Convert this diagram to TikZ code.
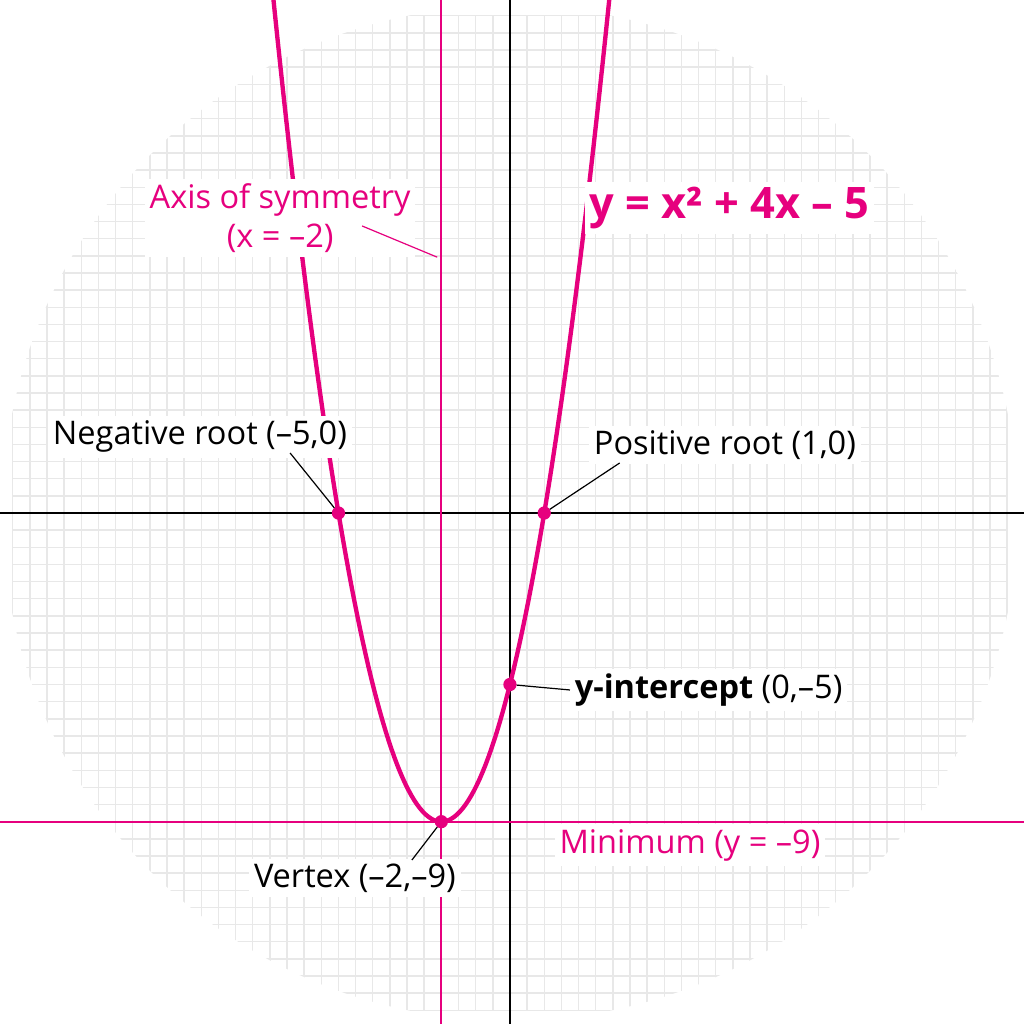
\documentclass[tikz,border=0pt]{standalone}
\usepackage{fontspec}
\setmainfont{Open Sans}
\usetikzlibrary{calc,positioning,fadings}
\definecolor{mag}{HTML}{E6007E}
\begin{document}
\begin{tikzpicture}[x=0.5cm, y=0.5cm, outer sep=0pt]

\tikzstyle{lbl}=[fill=white, inner sep=2pt, font=\fontsize{13.5}{16}\selectfont]
\tikzstyle{pt}=[circle, fill=mag, inner sep=0pt, minimum size=5.5pt]
\tikzstyle{lead}=[black, line width=0.5pt]

\useasboundingbox (-14.87,-14.9) rectangle (14.99,14.96);
\begin{scope}
\clip (0,0) circle (14.8);
\draw[black!9, line width=0.6pt, step=0.5] (-14.5,-14.5) grid (14.5,14.5);
\end{scope}
\fill[white, path fading=circle with fuzzy edge 15 percent, fill opacity=0] (0,0) circle (15);

% axes
\draw[black, line width=0.8pt] (-14.87,0) -- (14.99,0);
\draw[black, line width=0.8pt] (0,-14.9) -- (0,14.96);
\draw[mag, line width=0.9pt] (-2,-14.9) -- (-2,14.96);
\draw[mag, line width=0.9pt] (-14.87,-9) -- (14.99,-9);

% parabola
\draw[mag, line width=1.8pt, domain=-6.95:2.95, samples=120] plot (\x, {\x*\x+4*\x-5});

\node[pt] (negroot) at (-5,0) {};
\node[pt] (posroot) at (1,0) {};
\node[pt] (yint) at (0,-5) {};
\node[pt] (vertex) at (-2,-9) {};

\node[lbl, text=mag, align=center] (axis) at (-6.7,8.6) {Axis of symmetry\\(x = –2)};
\node[lbl, text=mag, font=\fontsize{18}{20}\selectfont\bfseries] (title) at (6.41,8.89) {y = x² + 4x – 5};
\node[lbl] (neglbl) at (-9.04,2.22) {Negative root (–5,0)};
\node[lbl] (poslbl) at (6.27,1.98) {Positive root (1,0)};
\node[lbl, anchor=west] (yintlbl) at (1.75,-5.16) {\textbf{y-intercept} (0,–5)};
\node[lbl] (vertexlbl) at (-4.52,-10.64) {Vertex (–2,–9)};
\node[lbl, text=mag] (minlbl) at (5.25,-9.68) {Minimum (y = –9)};

\draw[lead, mag] (-4.31,8.37) -- (-2.12,7.46);
\draw[lead] (-6.41,1.75) -- (negroot);
\draw[lead] (posroot) -- (3.2,1.46);
\draw[lead] (yint) -- (yintlbl.west);
\draw[lead] (vertex) -- (-2.86,-10.12);
\end{tikzpicture}
\end{document}
